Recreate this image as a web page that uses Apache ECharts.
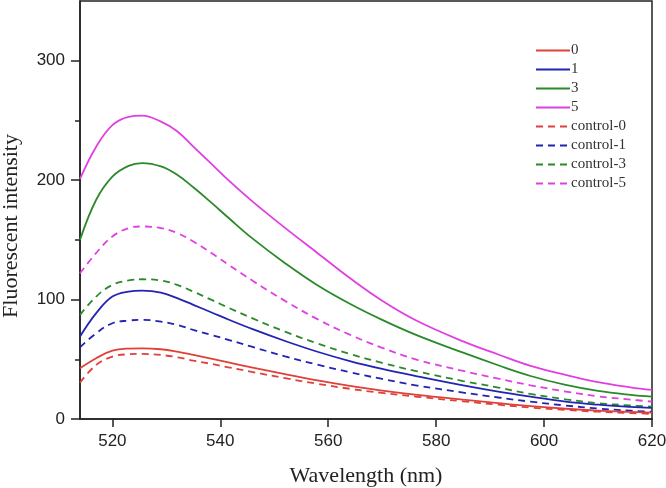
<!DOCTYPE html>
<html>
<head>
<meta charset="utf-8">
<script src="https://cdn.jsdelivr.net/npm/echarts@6/dist/echarts.min.js"></script>
<style>html,body{margin:0;padding:0;background:#fff}#c{width:666px;height:488px}</style>
</head>
<body>
<div id="c"></div>
<script>
// Wavelength (nm)
var wavelength = [514, 517, 520, 523, 525.5, 529, 532, 535, 538.5, 541.5, 546, 552, 558, 564, 570, 576.5, 585, 591.5, 597.5, 604, 610, 616, 620];
// Series values (fluorescent intensity)
var s0  = [42.5, 50.9, 57.3, 59, 59.2, 58.4, 56.4, 53.6, 50.3, 47.4, 43, 37.5, 32.3, 27.7, 23.8, 20.2, 16.2, 13.3, 10.8, 8.6, 7, 5.9, 5.3];
var s1  = [69, 88.6, 102.5, 106.7, 107.5, 105.9, 101.2, 95.6, 89, 83.3, 75.2, 65.3, 56.3, 48.5, 41.9, 35.7, 28.1, 22.9, 18.7, 14.5, 12, 10.2, 9.3];
var s3  = [150, 183.6, 203, 212, 214.3, 211.5, 204.5, 194, 180.5, 168.5, 151, 130.5, 112, 96.5, 83, 70, 55.5, 45, 36, 28.5, 23.5, 20.2, 18.7];
var s5  = [201, 228, 246, 253, 254, 249, 241, 228, 213, 200, 182, 160, 139, 118, 99, 82, 65, 54, 44.5, 37, 30.8, 26.5, 24.3];
var c0  = [30.4, 45.3, 52.2, 54.2, 54.5, 53.6, 51.7, 48.9, 46, 43.3, 39.3, 34.2, 29.5, 25.3, 21.8, 18.6, 14.8, 12, 9.6, 7.6, 6.1, 5, 4.3];
var c1  = [60, 71.8, 80.2, 82.4, 83, 81.6, 78.8, 74.6, 70.2, 66.3, 60.3, 52.5, 45.5, 39.2, 33.5, 28, 22.1, 18, 14.5, 11.3, 8.8, 7, 6.1];
var c3  = [87.2, 102.5, 112.3, 116, 117, 116, 112.3, 106.7, 99.5, 93.2, 84.2, 73.1, 63.2, 54.5, 47, 39.9, 31.8, 26.3, 21, 16.5, 13.3, 11.3, 10.3];
var c5  = [122, 139, 152.8, 159.8, 161.2, 159.8, 155.7, 148.6, 138.5, 129.2, 115.7, 98.9, 83.6, 70.6, 59.6, 49.6, 40.2, 33.8, 28.2, 23, 19, 16.3, 14.5];
var seriesNames = ['0', '1', '3', '5', 'control-0', 'control-1', 'control-3', 'control-5'];
var xTicks = [520, 540, 560, 580, 600, 620];
var yTicks = [0, 100, 200, 300];
var yMinorTicks = [50, 150, 250];

var colors = ['#e0403a', '#2323b4', '#2a8a2a', '#e040e0'];
var allData = [s0, s1, s3, s5, c0, c1, c3, c5];

function pairs(arr) { return wavelength.map(function (w, i) { return [w, arr[i]]; }); }

var series = allData.map(function (d, i) {
  return {
    name: seriesNames[i],
    type: 'line',
    xAxisIndex: 0,
    yAxisIndex: 0,
    data: pairs(d),
    smooth: 0.4,
    symbol: 'none',
    lineStyle: { color: colors[i % 4], width: 1.8, type: i < 4 ? 'solid' : [7, 5] },
    itemStyle: { color: colors[i % 4] },
    z: 10 - i
  };
});

var chart = echarts.init(document.getElementById('c'));
chart.setOption({
  animation: false,
  backgroundColor: '#fff',
  grid: { left: 80, right: 14, top: 1, bottom: 69, outerBoundsMode: 'none', containLabel: false, show: true, borderColor: '#222', borderWidth: 1.5, backgroundColor: 'transparent' },
  legend: {
    data: seriesNames,
    orient: 'vertical',
    left: 530,
    top: 38,
    itemWidth: 34,
    itemHeight: 12,
    itemGap: 4,
    itemStyle: { opacity: 0 },
    textStyle: { fontFamily: 'Liberation Serif', fontSize: 15, lineHeight: 12, color: '#333', padding: [0, 0, 0, -4] }
  },
  xAxis: {
    type: 'value',
    min: 514,
    max: 620,
    name: 'Wavelength (nm)',
    nameLocation: 'middle',
    nameGap: 46,
    nameTextStyle: { fontFamily: 'Liberation Serif', fontSize: 22, color: '#222' },
    axisLine: { show: true, lineStyle: { color: '#222', width: 1.5 } },
    axisTick: { show: true, inside: false, length: 8, lineStyle: { color: '#222', width: 1.5 }, customValues: xTicks },
    axisLabel: { fontFamily: 'Liberation Sans', fontSize: 17, color: '#222', margin: 14, customValues: xTicks },
    splitLine: { show: false }
  },
  yAxis: [{
    type: 'value',
    min: 0,
    max: 350,
    name: 'Fluorescent intensity',
    nameLocation: 'middle',
    nameGap: 58,
    nameTextStyle: { fontFamily: 'Liberation Serif', fontSize: 22, color: '#222', padding: [0, 32, 0, 0] },
    axisLine: { show: true, lineStyle: { color: '#222', width: 1.5 } },
    axisTick: { show: true, inside: false, length: 9, lineStyle: { color: '#222', width: 1.5 }, customValues: yTicks },
    axisLabel: { fontFamily: 'Liberation Sans', fontSize: 17, color: '#222', margin: 15, customValues: yTicks },
    splitLine: { show: false }
  }, {
    type: 'value',
    min: 0,
    max: 350,
    position: 'left',
    axisLine: { show: false },
    axisTick: { show: true, inside: false, length: 5, lineStyle: { color: '#222', width: 1.5 }, customValues: yMinorTicks },
    axisLabel: { show: false },
    splitLine: { show: false }
  }],
  series: series
});
</script>
</body>
</html>
